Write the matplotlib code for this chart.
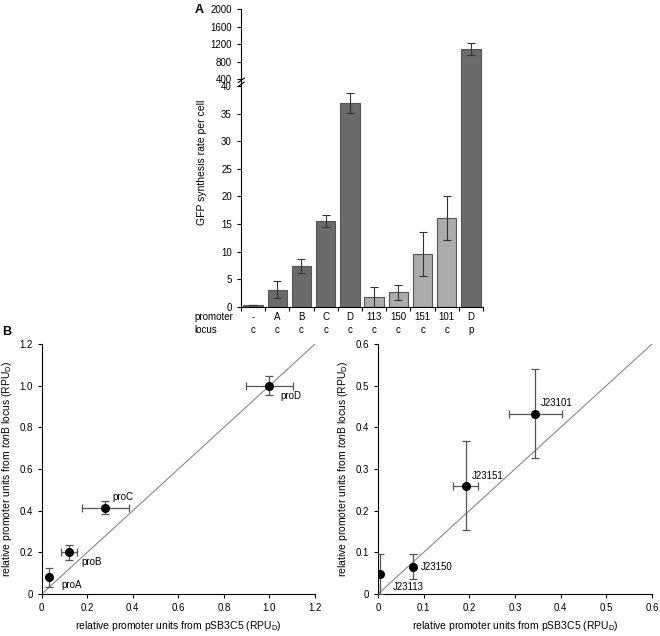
import numpy as np
import matplotlib
matplotlib.use("Agg")
import matplotlib.pyplot as plt

plt.rcParams['font.family'] = ['Liberation Sans', 'DejaVu Sans']
plt.rcParams['mathtext.fontset'] = 'custom'
plt.rcParams['mathtext.rm'] = 'Liberation Sans'
plt.rcParams['mathtext.it'] = 'Liberation Sans:italic'
plt.rcParams['font.size'] = 7

# -------------------------------
# Panel A data
# -------------------------------
promoters = ['-', 'A', 'B', 'C', 'D', '113', '150', '151', '101', 'D']
loci = ['c', 'c', 'c', 'c', 'c', 'c', 'c', 'c', 'c', 'p']
rates = [0.3, 3.1, 7.4, 15.5, 37.0, 1.8, 2.6, 9.6, 16.1, 1085]
rate_err = [0.0, 1.6, 1.3, 1.1, 1.8, 1.8, 1.3, 4.0, 4.0, 130]
light = [False, False, False, False, False, True, True, True, True, False]

# -------------------------------
# Panel B data
# -------------------------------
pro_names = ['proA', 'proB', 'proC', 'proD']
pro_x = [0.03, 0.12, 0.28, 1.0]
pro_y = [0.08, 0.20, 0.415, 1.0]
pro_xerr = [0.0, 0.035, 0.105, 0.105]
pro_yerr = [0.045, 0.035, 0.03, 0.045]
pro_lab = [(0.085, 0.043), (0.175, 0.155), (0.31, 0.467), (1.05, 0.952)]

j_names = ['J23113', 'J23150', 'J23151', 'J23101']
j_x = [0.005, 0.077, 0.192, 0.345]
j_y = [0.048, 0.066, 0.26, 0.433]
j_xerr = [0.0, 0.0, 0.028, 0.058]
j_yerr = [0.049, 0.029, 0.107, 0.106]
j_lab = [(0.033, 0.018), (0.093, 0.065), (0.205, 0.284), (0.356, 0.458)]

dark = '#6b6b6b'
lightc = '#ababab'

fig = plt.figure(figsize=(6.6, 6.36), dpi=100)

# upper part (400-2000) sits directly on the lower part (0-40), bar stays continuous
ax_up = fig.add_axes([0.365, 0.8643, 0.367, 0.1215])
ax_lo = fig.add_axes([0.365, 0.5178, 0.367, 0.3465])

xpos = np.arange(len(rates))
colors = [lightc if l else dark for l in light]
for ax in (ax_up, ax_lo):
    ax.bar(xpos, rates, width=0.8, color=colors, edgecolor='#555555', linewidth=0.8,
           yerr=rate_err, error_kw=dict(ecolor='#333333', elinewidth=0.8, capsize=3, capthick=0.8))
    ax.set_xlim(-0.5, 9.5)
    for s in ('top', 'right'):
        ax.spines[s].set_visible(False)
    ax.tick_params(direction='out', length=3, width=0.8, labelsize=7)

ax_up.set_ylim(233, 2000)
ax_up.set_yticks([400, 800, 1200, 1600, 2000])
ax_up.spines['bottom'].set_visible(False)
ax_up.set_xticks([])

ax_lo.set_ylim(0, 40)
ax_lo.set_yticks(np.arange(0, 41, 5))
ax_lo.set_xticks(xpos)
ax_lo.set_xticklabels([p + '\n' + l for p, l in zip(promoters, loci)], linespacing=1.3)
ax_lo.set_xticks(np.arange(-0.5, 9.6, 1), minor=True)
ax_lo.tick_params(axis='x', which='major', length=0, pad=4)
ax_lo.tick_params(axis='x', which='minor', length=3, width=0.8, direction='out')

# break marks on the y axis
for yy in (0.8737, 0.8675):
    fig.add_artist(plt.Line2D([0.361, 0.370], [yy - 0.0035, yy + 0.0035], color='black', lw=0.8))

fig.text(0.295, 0.4915, 'promoter\nlocus', ha='left', va='center', fontsize=7, linespacing=1.3)
fig.text(0.306, 0.745, 'GFP synthesis rate per cell', rotation=90, ha='center', va='center', fontsize=7.5)
fig.text(0.295, 0.985, 'A', fontsize=9, fontweight='bold', ha='left', va='center')
fig.text(0.003, 0.478, 'B', fontsize=9, fontweight='bold', ha='left', va='center')

xlab = 'relative promoter units from pSB3C5 (RPU$_\\mathrm{D}$)'
ylab = 'relative promoter units from $\\it{ton}$B locus (RPU$_\\mathrm{D}$)'

def scatter_panel(ax, xs, ys, xe, ye, names, labs, lim, ticks, fmt):
    ax.plot([0, lim], [0, lim], color='#888888', lw=0.8, zorder=1)
    ax.errorbar(xs, ys, xerr=xe, yerr=ye, fmt='o', color='black', ms=5.5,
                ecolor='#555555', elinewidth=0.9, capsize=3, capthick=0.9, zorder=3)
    for n, (tx, ty) in zip(names, labs):
        ax.text(tx, ty, n, fontsize=7, ha='left', va='center')
    ax.set_xlim(0, lim)
    ax.set_ylim(0, lim)
    ax.set_xticks(ticks)
    ax.set_yticks(ticks)
    ax.set_xticklabels([fmt(t) for t in ticks])
    ax.set_yticklabels([fmt(t) for t in ticks])
    for s in ('top', 'right'):
        ax.spines[s].set_visible(False)
    ax.tick_params(direction='out', length=3, width=0.8, labelsize=7)
    ax.set_xlabel(xlab, fontsize=7.5)
    ax.set_ylabel(ylab, fontsize=7.5)

ax_b1 = fig.add_axes([0.0632, 0.066, 0.414, 0.393])
scatter_panel(ax_b1, pro_x, pro_y, pro_xerr, pro_yerr, pro_names, pro_lab, 1.2,
              [0, 0.2, 0.4, 0.6, 0.8, 1.0, 1.2], lambda t: '0' if t == 0 else f'{t:.1f}')

ax_b2 = fig.add_axes([0.5727, 0.066, 0.415, 0.393])
scatter_panel(ax_b2, j_x, j_y, j_xerr, j_yerr, j_names, j_lab, 0.6,
              [0, 0.1, 0.2, 0.3, 0.4, 0.5, 0.6], lambda t: '0' if t == 0 else f'{t:.1f}')

fig.savefig('out.png', dpi=100)
